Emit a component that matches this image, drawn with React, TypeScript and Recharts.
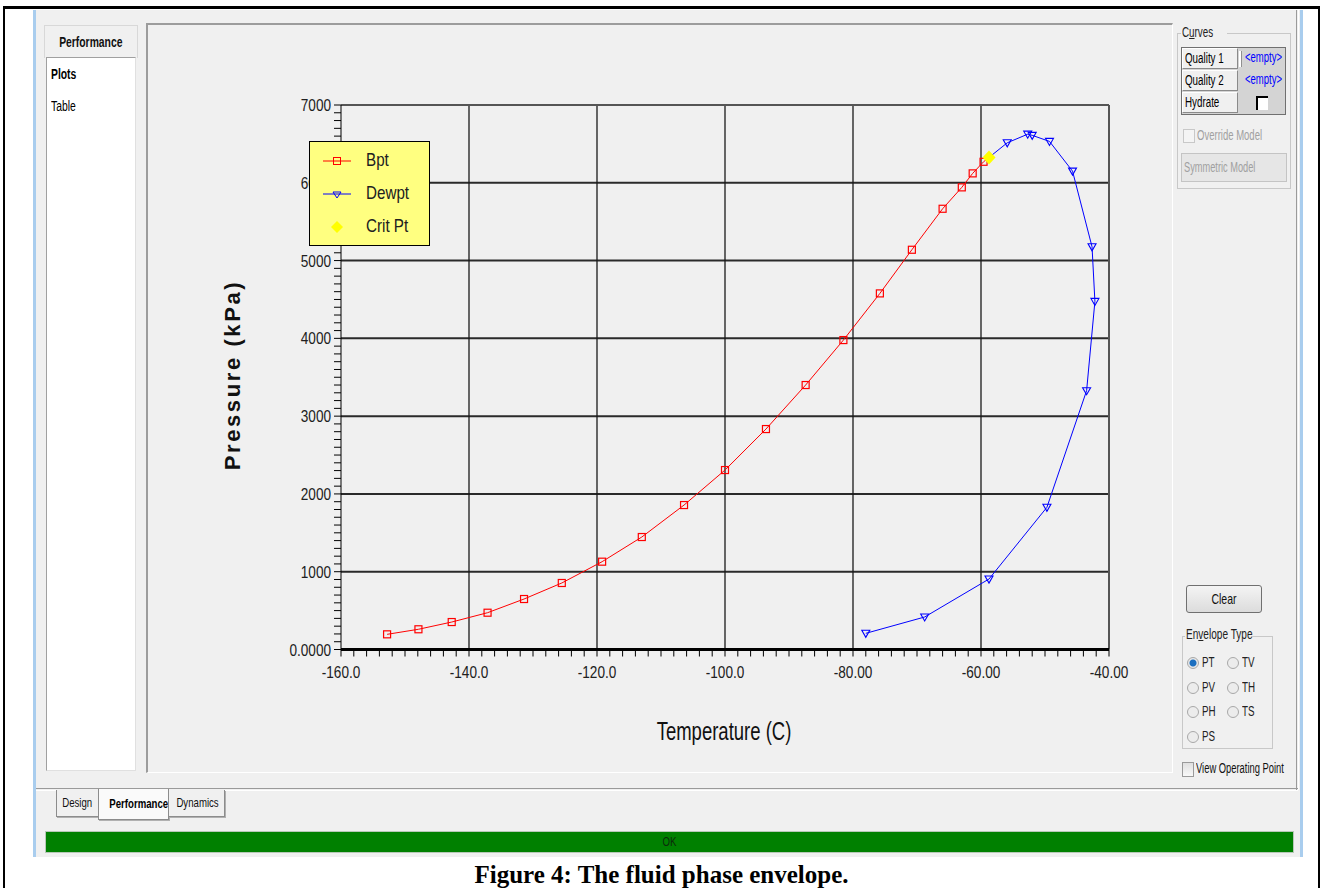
import React from 'react';
import { ScatterChart, Scatter, XAxis, YAxis, ReferenceLine, Legend } from 'recharts';

// bubble point curve
const bptTemp = [-152.8, -147.9, -142.7, -137.1, -131.4, -125.5, -119.2, -113.0, -106.4, -100.0, -93.6, -87.4, -81.5, -75.8, -70.8, -66.0, -63.0, -61.3, -59.6];
const bptPress = [195, 260, 353, 473, 649, 855, 1129, 1446, 1857, 2307, 2834, 3400, 3978, 4578, 5139, 5666, 5941, 6121, 6270];

// dew point curve
const dewTemp = [-55.9, -52.7, -52.0, -49.3, -45.7, -42.65, -42.2, -43.5, -49.7, -58.75, -68.8, -78.0];
const dewPress = [6514, 6625, 6610, 6532, 6150, 5177, 4475, 3327, 1828, 906, 418, 208];

// critical point
const critTemp = [-58.75];
const critPress = [6326];

const yMajorTicks = [0, 1000, 2000, 3000, 4000, 5000, 6000, 7000];
const yTickLabels = ['0.0000', '1000', '2000', '3000', '4000', '5000', '6000', '7000'];
const xMajorTicks = [-160, -140, -120, -100, -80, -60, -40];
const xTickLabels = ['-160.0', '-140.0', '-120.0', '-100.0', '-80.00', '-60.00', '-40.00'];

const seriesNames = ['Bpt', 'Dewpt', 'Crit Pt'];
const seriesColors = ['#ff0000', '#0000ff', '#ffff00'];

const bptData = bptTemp.map((t, i) => ({ t, p: bptPress[i] }));
const dewData = dewTemp.map((t, i) => ({ t, p: dewPress[i] }));
const critData = critTemp.map((t, i) => ({ t, p: critPress[i] }));
// both curves meet at the critical point
const bptLine = [...bptData, ...critData];
const dewLine = [...critData, ...dewData];

// minor ticks every 100 kPa and every 2 C
const yTicks = Array.from({ length: 71 }, (_, i) => i * 100);
const xTicks = Array.from({ length: 61 }, (_, i) => -160 + i * 2);

const sans = "'Liberation Sans', Arial, sans-serif";

// no narrow font installed, so squeeze the regular one
const Nw = ({ children, s = 0.7, origin = 'left' }: { children: React.ReactNode; s?: number; origin?: string }) => (
  <span style={{ display: 'inline-block', transform: `scaleX(${s})`, transformOrigin: `${origin} center`, whiteSpace: 'nowrap' }}>{children}</span>
);

const YTick = (props: any) => {
  const { x, y, payload } = props;
  const idx = yMajorTicks.indexOf(payload.value);
  return (
    <g>
      <line x1={x - 7} x2={x} y1={y} y2={y} stroke="#000" strokeWidth={1} />
      {idx >= 0 && (
        <text transform={`translate(${x - 10},${y + 6}) scale(0.8,1)`} textAnchor="end" fontFamily={sans} fontSize={17} fill="#202020">
          {yTickLabels[idx]}
        </text>
      )}
    </g>
  );
};

const XTick = (props: any) => {
  const { x, y, payload } = props;
  const idx = xMajorTicks.indexOf(payload.value);
  return (
    <g>
      <line x1={x} x2={x} y1={y} y2={y + 7} stroke="#000" strokeWidth={1} />
      {idx >= 0 && (
        <text transform={`translate(${x},${y + 28}) scale(0.8,1)`} textAnchor="middle" fontFamily={sans} fontSize={17} fill="#202020">
          {xTickLabels[idx]}
        </text>
      )}
    </g>
  );
};

const Square = (props: any) => (
  <rect x={props.cx - 3.5} y={props.cy - 3.5} width={7} height={7} fill="none" stroke="#ff0000" strokeWidth={1.2} />
);
const TriDown = (props: any) => (
  <path d={`M${props.cx - 4},${props.cy - 3} L${props.cx + 4},${props.cy - 3} L${props.cx},${props.cy + 4} Z`} fill="none" stroke="#0000ff" strokeWidth={1.1} />
);
const Diamond = (props: any) => (
  <path d={`M${props.cx},${props.cy - 7} L${props.cx + 6.5},${props.cy} L${props.cx},${props.cy + 7} L${props.cx - 6.5},${props.cy} Z`} fill="#ffff00" />
);
const NoDot = () => <g />;

const legendSymbols = [
  (cx: number, cy: number) => (
    <g>
      <line x1={cx - 14} x2={cx + 14} y1={cy} y2={cy} stroke={seriesColors[0]} />
      <rect x={cx - 3.5} y={cy - 3.5} width={7} height={7} fill="none" stroke={seriesColors[0]} />
    </g>
  ),
  (cx: number, cy: number) => (
    <g>
      <line x1={cx - 14} x2={cx + 14} y1={cy} y2={cy} stroke={seriesColors[1]} />
      <path d={`M${cx - 4},${cy - 2} L${cx + 4},${cy - 2} L${cx},${cy + 4} Z`} fill="none" stroke={seriesColors[1]} />
    </g>
  ),
  (cx: number, cy: number) => (
    <path d={`M${cx},${cy - 6} L${cx + 6},${cy} L${cx},${cy + 6} L${cx - 6},${cy} Z`} fill={seriesColors[2]} />
  ),
];

const renderLegend = () => (
  <div style={{ width: 121, height: 105, background: '#ffff80', border: '1px solid #000', boxSizing: 'border-box', position: 'relative' }}>
    {seriesNames.map((name, i) => (
      <div key={name} style={{ position: 'absolute', left: 0, top: 8 + i * 33, height: 22, width: 119 }}>
        <svg width={50} height={22} style={{ position: 'absolute', left: 0, top: 0 }}>
          {legendSymbols[i](27, 11)}
        </svg>
        <span style={{ position: 'absolute', left: 56, top: -1, fontFamily: sans, fontSize: 19, color: '#202020' }}>
          <Nw s={0.8}>{name}</Nw>
        </span>
      </div>
    ))}
  </div>
);

const abs = (l: number, t: number, w: number, h: number): React.CSSProperties => ({
  position: 'absolute', left: l, top: t, width: w, height: h, boxSizing: 'border-box',
});

const Radio = ({ x, y, label, checked }: { x: number; y: number; label: string; checked?: boolean }) => (
  <div style={{ position: 'absolute', left: x, top: y - 8 }}>
    <div style={{ ...abs(0, 2, 12, 12), borderRadius: 6, border: '1px solid #a8a8a8', background: checked ? 'radial-gradient(circle, #1c6fc0 0 3px, #e8e8e8 4px)' : '#ececec' }} />
    <span style={{ position: 'absolute', left: 15, top: -1, fontSize: 14, color: '#222' }}><Nw>{label}</Nw></span>
  </div>
);

export default function App() {
  return (
    <div style={{ position: 'absolute', left: 0, top: 0, width: 1323, height: 888, background: '#fff', overflow: 'hidden', fontFamily: sans }}>
      {/* page frame */}
      <div style={{ ...abs(3, 6, 1317, 900), borderTop: '3px solid #000', borderLeft: '2px solid #000', borderRight: '2px solid #000' }} />
      {/* window */}
      <div style={{ ...abs(33, 10, 1270, 847), background: '#f0f0f0', borderLeft: '3px solid #a9cdee', borderRight: '3px solid #a9cdee' }} />

      {/* left navigation */}
      <div style={{ ...abs(44, 25, 94, 33), border: '1px solid #d8d8d8', borderBottom: 'none', textAlign: 'center', lineHeight: '33px', fontSize: 14, fontWeight: 'bold', color: '#111' }}>
        <Nw s={0.74} origin="center">Performance</Nw>
      </div>
      <div style={{ ...abs(46, 57, 90, 714), background: '#fff', borderTop: '1px solid #a0a0a0', borderLeft: '1px solid #a0a0a0', borderRight: '1px solid #e0e0e0', borderBottom: '1px solid #e0e0e0' }}>
        <div style={{ position: 'absolute', left: 4, top: 8, fontSize: 14, fontWeight: 'bold', color: '#000' }}><Nw s={0.74}>Plots</Nw></div>
        <div style={{ position: 'absolute', left: 4, top: 40, fontSize: 14, color: '#000' }}><Nw s={0.74}>Table</Nw></div>
      </div>

      {/* plot panel */}
      <div style={{ ...abs(146, 23, 1027, 750), borderTop: '2px solid #9c9c9c', borderLeft: '2px solid #9c9c9c', borderRight: '1px solid #fff', borderBottom: '1px solid #fff' }} />

      <div style={{ position: 'absolute', left: 146, top: 24 }}>
        <ScatterChart width={1026} height={748} margin={{ top: 81, right: 63, bottom: 92.5, left: 135 }}>
          <XAxis
            type="number"
            dataKey="t"
            domain={[-160, -40]}
            ticks={xTicks}
            interval={0}
            height={30}
            tickSize={0}
            tickMargin={0}
            tickLine={false}
            tick={<XTick />}
            axisLine={{ stroke: '#000', strokeWidth: 3 }}
            allowDataOverflow
          />
          <YAxis
            type="number"
            dataKey="p"
            domain={[0, 7000]}
            ticks={yTicks}
            interval={0}
            width={60}
            tickSize={0}
            tickMargin={0}
            tickLine={false}
            tick={<YTick />}
            axisLine={{ stroke: '#000', strokeWidth: 1 }}
            allowDataOverflow
          />
          {yMajorTicks.slice(1, -1).map((v) => (
            <ReferenceLine key={`h${v}`} y={v} stroke="#2a2a2a" strokeWidth={2} />
          ))}
          {xMajorTicks.slice(1, -1).map((v) => (
            <ReferenceLine key={`v${v}`} x={v} stroke="#1a1a1a" strokeWidth={1.3} />
          ))}
          <ReferenceLine y={7000} stroke="#555" strokeWidth={2} />
          <ReferenceLine x={-40} stroke="#555" strokeWidth={2} />
          <Legend
            layout="horizontal"
            verticalAlign="middle"
            align="center"
            content={renderLegend}
            wrapperStyle={{ left: 163, top: 117, width: 121, height: 105 }}
          />
          <Scatter name="Bpt line" data={bptLine} line={{ stroke: seriesColors[0], strokeWidth: 1 }} shape={NoDot} legendType="none" isAnimationActive={false} />
          <Scatter name="Dewpt line" data={dewLine} line={{ stroke: seriesColors[1], strokeWidth: 1 }} shape={NoDot} legendType="none" isAnimationActive={false} />
          <Scatter name={seriesNames[0]} data={bptData} shape={Square} isAnimationActive={false} />
          <Scatter name={seriesNames[1]} data={dewData} shape={TriDown} isAnimationActive={false} />
          <Scatter name={seriesNames[2]} data={critData} shape={Diamond} isAnimationActive={false} />
        </ScatterChart>
      </div>

      {/* axis titles */}
      <div style={{ position: 'absolute', left: 233, top: 375, transform: 'translate(-50%, -50%) rotate(-90deg)', fontWeight: 'bold', fontSize: 22, letterSpacing: 2.6, whiteSpace: 'nowrap', color: '#111' }}>Pressure (kPa)</div>
      <div style={{ position: 'absolute', left: 724, top: 731, transform: 'translate(-50%, -50%) scaleX(0.74)', fontSize: 25, whiteSpace: 'nowrap', color: '#111' }}>Temperature (C)</div>

      {/* right panel: curves */}
      <div style={{ ...abs(1177, 33, 114, 156), border: '1px solid #c8c8c8' }} />
      <div style={{ position: 'absolute', left: 1181, top: 24, background: '#f0f0f0', padding: '0 1px', fontSize: 14, color: '#222' }}><Nw>C<u>u</u>rves</Nw></div>
      <div style={{ ...abs(1181, 47, 105, 68), border: '1px solid #707070', background: '#d4d4d4' }} />
      {['Quality 1', 'Quality 2', 'Hydrate'].map((lab, i) => (
        <React.Fragment key={lab}>
          <div style={{ ...abs(1182, 48 + i * 22, 56, 21), background: '#f0f0f0', borderTop: '1px solid #fff', borderLeft: '1px solid #fff', borderRight: '1px solid #8a8a8a', borderBottom: '1px solid #8a8a8a', fontSize: 14, lineHeight: '19px', paddingLeft: 2, color: '#000' }}><Nw>{lab}</Nw></div>
          {i < 2 && <div style={{ position: 'absolute', left: 1245, top: 49 + i * 22, fontSize: 14, color: '#0000ff' }}><Nw s={0.68}>&lt;empty&gt;</Nw></div>}
        </React.Fragment>
      ))}
      <div style={{ ...abs(1239, 51, 3, 16), background: '#fff', borderRight: '1px solid #909090' }} />
      <div style={{ ...abs(1256, 96, 12, 14), background: '#fff', borderTop: '2px solid #000', borderLeft: '2px solid #000' }} />
      <div style={{ ...abs(1183, 129, 12, 14), border: '1px solid #c8c8c8', background: '#f4f4f4' }} />
      <div style={{ position: 'absolute', left: 1197, top: 127, fontSize: 14, color: '#a0a0a0' }}><Nw s={0.68}>Override Model</Nw></div>
      <div style={{ ...abs(1181, 153, 106, 29), border: '1px solid #c4c4c4', background: '#e6e6e6', fontSize: 14, color: '#a0a0a0', lineHeight: '27px', paddingLeft: 2 }}><Nw s={0.66}>Symmetric Model</Nw></div>

      {/* right panel: clear + envelope type */}
      <div style={{ ...abs(1186, 585, 76, 28), border: '1px solid #707070', borderRadius: 3, background: 'linear-gradient(#f4f4f4, #dcdcdc)', textAlign: 'center', lineHeight: '26px', fontSize: 15, color: '#111' }}><Nw s={0.7} origin="center">Clear</Nw></div>
      <div style={{ ...abs(1182, 636, 91, 113), border: '1px solid #c8c8c8' }} />
      <div style={{ position: 'absolute', left: 1185, top: 626, background: '#f0f0f0', padding: '0 1px', fontSize: 14, color: '#222', width: 64 }}><Nw s={0.72}>En<u>v</u>elope Type</Nw></div>
      <Radio x={1187} y={663} label="PT" checked />
      <Radio x={1227} y={663} label="TV" />
      <Radio x={1187} y={688} label="PV" />
      <Radio x={1227} y={688} label="TH" />
      <Radio x={1187} y={712} label="PH" />
      <Radio x={1227} y={712} label="TS" />
      <Radio x={1187} y={737} label="PS" />
      <div style={{ ...abs(1182, 762, 12, 15), border: '1px solid #9a9a9a', background: 'linear-gradient(#e0e0e0, #f8f8f8)' }} />
      <div style={{ position: 'absolute', left: 1196, top: 760, fontSize: 14, color: '#111' }}><Nw s={0.67}>View Operating Point</Nw></div>

      {/* tabs */}
      <div style={{ ...abs(36, 788, 1262, 3), borderTop: '1px solid #9a9a9a', borderBottom: '1px solid #fff' }} />
      <div style={{ ...abs(1296, 10, 3, 780), borderLeft: '1px solid #9a9a9a', borderRight: '1px solid #fff' }} />
      <div style={{ ...abs(56, 790, 43, 27), border: '1px solid #8c8c8c', borderTop: 'none', background: '#f0f0f0', boxShadow: '1px 1px 0 #b0b0b0', textAlign: 'center', lineHeight: '26px', fontSize: 13, color: '#111' }}><Nw s={0.74} origin="center">Design</Nw></div>
      <div style={{ ...abs(98, 789, 71, 31), border: '1px solid #8c8c8c', borderTop: 'none', background: '#fafafa', boxShadow: '1px 1px 0 #b0b0b0', textAlign: 'center', lineHeight: '30px', fontSize: 13, fontWeight: 'bold', color: '#000' }}><Nw s={0.74} origin="center">Performance</Nw></div>
      <div style={{ ...abs(168, 790, 57, 27), border: '1px solid #8c8c8c', borderTop: 'none', background: '#f0f0f0', boxShadow: '1px 1px 0 #b0b0b0', textAlign: 'center', lineHeight: '26px', fontSize: 13, color: '#111' }}><Nw s={0.74} origin="center">Dynamics</Nw></div>

      {/* status bar */}
      <div style={{ ...abs(45, 831, 1249, 22), background: '#008000', border: '1px solid #b8c8b8', textAlign: 'center', lineHeight: '20px', fontSize: 13, color: '#0b2b0b' }}><Nw s={0.74} origin="center">OK</Nw></div>

      {/* caption */}
      <div style={{ position: 'absolute', left: 0, top: 861, width: 1323, textAlign: 'center', fontFamily: "'Liberation Serif', 'Times New Roman', serif", fontWeight: 'bold', fontSize: 25, color: '#000', whiteSpace: 'nowrap' }}>
        Figure 4: The fluid phase envelope.
      </div>
    </div>
  );
}
